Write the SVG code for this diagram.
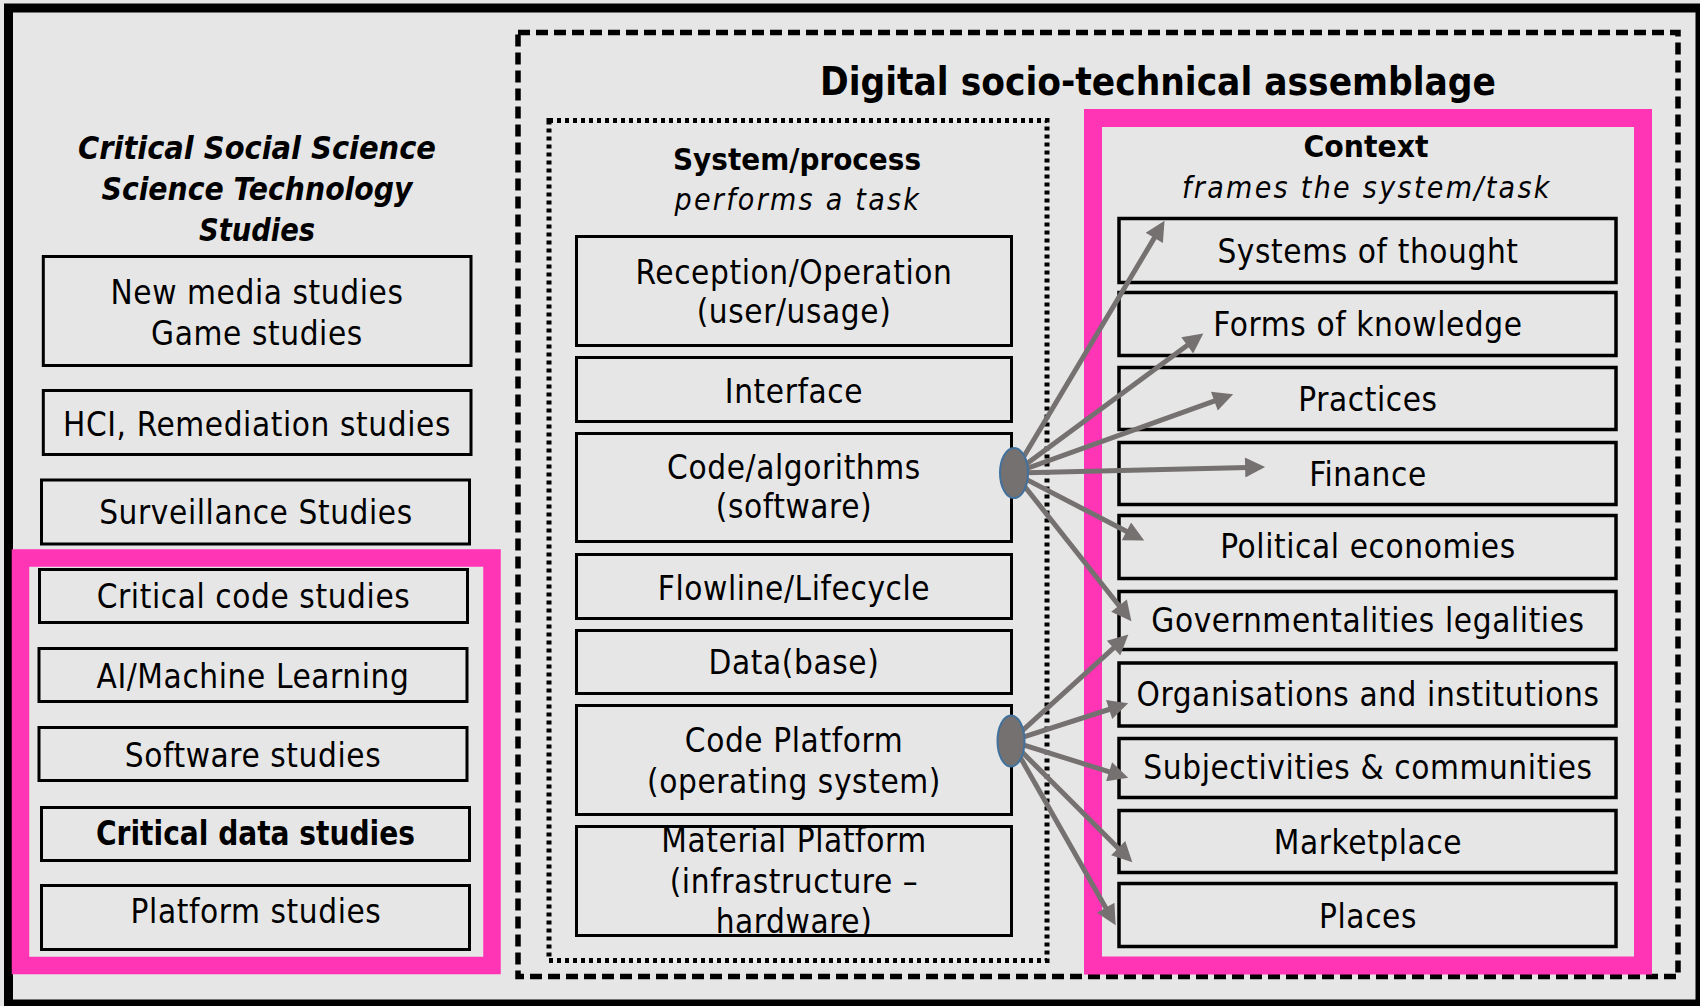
<svg xmlns="http://www.w3.org/2000/svg" width="1700" height="1006" viewBox="0 0 1700 1006">
<style>
.t{font-family:"DejaVu Sans Condensed","DejaVu Sans",sans-serif;font-stretch:condensed;font-size:33px;fill:#000;text-anchor:middle;letter-spacing:0.6px}
.b{font-weight:bold;letter-spacing:0}
.i{font-style:italic}
.box{fill:none;stroke:#000;stroke-width:3}
.rbox{fill:none;stroke:#000;stroke-width:3.5}
.pink{fill:none;stroke:#ff35b5;stroke-width:18}
.arr{stroke:#767171;stroke-width:5;fill:none;marker-end:url(#ah)}
.ell{fill:#767171;stroke:#41719c;stroke-width:2}
</style>
<defs>
<marker id="ah" viewBox="0 0 10 10" markerWidth="4.5" markerHeight="4" refX="6.44" refY="5" orient="auto" markerUnits="strokeWidth">
<path d="M0,0 L10,5 L0,10 z" fill="#767171"/>
</marker>
</defs>
<rect x="0" y="0" width="1700" height="1006" fill="#e7e6e6"/>
<rect x="8.5" y="8" width="1691.5" height="996" fill="none" stroke="#000" stroke-width="9"/>

<g id="assemblage">
<rect x="518" y="32.5" width="1160" height="944" fill="none" stroke="#000" stroke-width="5.5" stroke-dasharray="12 6"/>
<text class="t b" x="1158" y="94.6" style="font-size:39px" textLength="676" lengthAdjust="spacingAndGlyphs">Digital socio-technical assemblage</text>
</g>

<g id="left-title">
<text class="t b i" x="257" y="159" style="font-size:32px" textLength="358" lengthAdjust="spacingAndGlyphs">Critical Social Science</text>
<text class="t b i" x="257" y="200" style="font-size:32px" textLength="311" lengthAdjust="spacingAndGlyphs">Science Technology</text>
<text class="t b i" x="257" y="241" style="font-size:32px" textLength="116" lengthAdjust="spacingAndGlyphs">Studies</text>
</g>
<g id="new-media"><rect class="box" x="43.3" y="256.5" width="427.7" height="109"/>
<text class="t" x="257" y="303.6">New media studies</text><text class="t" x="257" y="344.6">Game studies</text></g>
<g id="hci"><rect class="box" x="43.3" y="390.5" width="427.7" height="64"/><text class="t" x="257" y="436">HCI, Remediation studies</text></g>
<g id="surveillance"><rect class="box" x="41.5" y="480" width="428" height="64"/><text class="t" x="256" y="524">Surveillance Studies</text></g>
<g id="left-pink"><rect class="pink" x="20.5" y="558" width="471.5" height="407.5" style="stroke-width:17.5"/></g>
<g id="critical-code"><rect class="box" x="39.5" y="569.5" width="428" height="53"/><text class="t" x="253.5" y="608">Critical code studies</text></g>
<g id="ai-ml"><rect class="box" x="39" y="648.5" width="428" height="53"/><text class="t" x="253" y="688">AI/Machine Learning</text></g>
<g id="software"><rect class="box" x="39" y="727.5" width="428" height="53"/><text class="t" x="253" y="767">Software studies</text></g>
<g id="critical-data"><rect class="box" x="41.5" y="807.5" width="428" height="53"/><text class="t b" x="255.5" y="845" textLength="319" lengthAdjust="spacingAndGlyphs">Critical data studies</text></g>
<g id="platform"><rect class="box" x="41.5" y="885.5" width="428" height="64"/><text class="t" x="256" y="923">Platform studies</text></g>

<g id="system-process">
<rect x="549" y="120.5" width="498" height="840" fill="none" stroke="#000" stroke-width="5" stroke-dasharray="4 4"/>
<text class="t b" x="797" y="169.6" style="font-size:30px" textLength="248" lengthAdjust="spacingAndGlyphs">System/process</text>
<text class="t i" x="797" y="210" style="font-size:30px" textLength="245" lengthAdjust="spacing">performs a task</text>
</g>
<g id="reception"><rect class="box" x="576.5" y="236.5" width="435" height="109"/>
<text class="t" x="794" y="284">Reception/Operation</text><text class="t" x="794" y="323">(user/usage)</text></g>
<g id="interface"><rect class="box" x="576.5" y="357.5" width="435" height="64"/><text class="t" x="794" y="402.5">Interface</text></g>
<g id="code-algorithms"><rect class="box" x="576.5" y="433.5" width="435" height="108"/>
<text class="t" x="794" y="478.6">Code/algorithms</text><text class="t" x="794" y="518">(software)</text></g>
<g id="flowline"><rect class="box" x="576.5" y="554.5" width="435" height="64"/><text class="t" x="794" y="600">Flowline/Lifecycle</text></g>
<g id="database"><rect class="box" x="576.5" y="630.5" width="435" height="63"/><text class="t" x="794" y="674">Data(base)</text></g>
<g id="code-platform"><rect class="box" x="576.5" y="705.5" width="435" height="109"/>
<text class="t" x="794" y="752">Code Platform</text><text class="t" x="794" y="793">(operating system)</text></g>
<g id="material-platform"><rect class="box" x="576.5" y="826.5" width="435" height="109"/>
<text class="t" x="794" y="852">Material Platform</text><text class="t" x="794" y="893">(infrastructure –</text><text class="t" x="794" y="933">hardware)</text></g>

<g id="context">
<rect class="pink" x="1093" y="118" width="550" height="847.5"/>
<text class="t b" x="1366" y="157" style="font-size:30px" textLength="125" lengthAdjust="spacingAndGlyphs">Context</text>
<text class="t i" x="1366" y="198" style="font-size:30px" textLength="368" lengthAdjust="spacing">frames the system/task</text>
</g>
<g id="systems-of-thought"><rect class="rbox" x="1119" y="218.5" width="497" height="64"/><text class="t" x="1368" y="263">Systems of thought</text></g>
<g id="forms-of-knowledge"><rect class="rbox" x="1119" y="292.5" width="497" height="63"/><text class="t" x="1368" y="336">Forms of knowledge</text></g>
<g id="practices"><rect class="rbox" x="1119" y="367.5" width="497" height="62"/><text class="t" x="1368" y="411">Practices</text></g>
<g id="finance"><rect class="rbox" x="1119" y="442.5" width="497" height="62"/><text class="t" x="1368" y="486">Finance</text></g>
<g id="political-economies"><rect class="rbox" x="1119" y="515.5" width="497" height="63"/><text class="t" x="1368" y="558">Political economies</text></g>
<g id="governmentalities"><rect class="rbox" x="1119" y="591.5" width="497" height="58"/><text class="t" x="1368" y="632">Governmentalities legalities</text></g>
<g id="organisations"><rect class="rbox" x="1119" y="663" width="497" height="63"/><text class="t" x="1368" y="705.7">Organisations and institutions</text></g>
<g id="subjectivities"><rect class="rbox" x="1119" y="738.5" width="497" height="59"/><text class="t" x="1368" y="779">Subjectivities &amp; communities</text></g>
<g id="marketplace"><rect class="rbox" x="1119" y="810.5" width="497" height="62"/><text class="t" x="1368" y="854">Marketplace</text></g>
<g id="places"><rect class="rbox" x="1119" y="883.5" width="497" height="63"/><text class="t" x="1368" y="928">Places</text></g>

<g id="connectors">
<line class="arr" x1="1014" y1="473" x2="1160.9" y2="226.9"/>
<line class="arr" x1="1014" y1="473" x2="1197.6" y2="337.7"/>
<line class="arr" x1="1014" y1="473" x2="1226.5" y2="396.7"/>
<line class="arr" x1="1014" y1="473" x2="1258" y2="467.2"/>
<line class="arr" x1="1014" y1="473" x2="1137.9" y2="537.3"/>
<line class="arr" x1="1014" y1="473" x2="1127" y2="615.7"/>
<line class="arr" x1="1011" y1="741" x2="1123.1" y2="639.4"/>
<line class="arr" x1="1011" y1="741" x2="1121.4" y2="705.5"/>
<line class="arr" x1="1011" y1="741" x2="1121.4" y2="775.6"/>
<line class="arr" x1="1011" y1="741" x2="1127.3" y2="857.3"/>
<line class="arr" x1="1011" y1="741" x2="1112.1" y2="919"/>
</g>
<g id="hub-code"><ellipse class="ell" cx="1014" cy="473" rx="14" ry="25"/></g>
<g id="hub-platform"><ellipse class="ell" cx="1011" cy="741" rx="13.5" ry="25.5"/></g>
</svg>
